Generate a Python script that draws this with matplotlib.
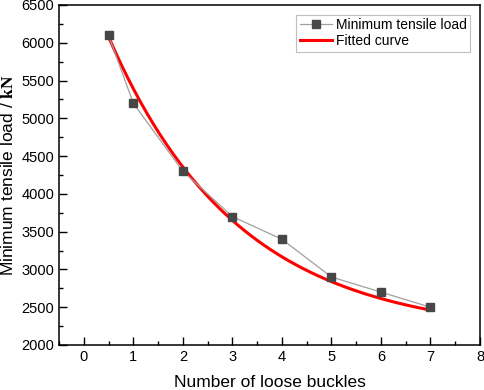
import numpy as np
import matplotlib
matplotlib.use("Agg")
import matplotlib.pyplot as plt
from matplotlib.ticker import MultipleLocator

plt.rcParams['font.family'] = ['Liberation Sans', 'DejaVu Sans']
plt.rcParams['mathtext.fontset'] = 'custom'
plt.rcParams['mathtext.bf'] = 'Liberation Serif:bold'
plt.rcParams['mathtext.rm'] = 'Liberation Sans'

# data
buckles = [0.5, 1, 2, 3, 4, 5, 6, 7]
min_load = [6100, 5200, 4300, 3700, 3400, 2900, 2700, 2500]

# fitted curve parameters (ExpDec1: y = y0 + A*exp(-x/t))
fit_y0 = 2134
fit_A = 4778
fit_t = 2.613

fig = plt.figure(figsize=(4.84, 3.90), dpi=100)
ax = fig.add_axes([59/484, 45/390, (480-59)/484, (345-5)/390])

ax.plot(buckles, min_load, color='#a0a0a0', lw=0.9, marker='s', ms=5.5,
        mfc='#474747', mec='#474747', label='Minimum tensile load', zorder=3)
xf = np.linspace(min(buckles), max(buckles), 200)
yf = fit_y0 + fit_A * np.exp(-xf / fit_t)
ax.plot(xf, yf, color='#ff0000', lw=2.2, label='Fitted curve', zorder=2)

ax.set_xlim(-0.5, 8)
ax.set_ylim(2000, 6500)
ax.xaxis.set_major_locator(MultipleLocator(1))
ax.xaxis.set_minor_locator(MultipleLocator(0.5))
ax.yaxis.set_major_locator(MultipleLocator(500))
ax.yaxis.set_minor_locator(MultipleLocator(250))
ax.tick_params(which='both', direction='in', top=False, right=False, labelsize=10.5, width=1)
ax.tick_params(which='major', length=6)
ax.tick_params(which='minor', length=3)
for s in ax.spines.values():
    s.set_linewidth(1.1)

ax.set_xlabel('Number of loose buckles', fontsize=12.5, labelpad=8)
ax.set_ylabel(r'Minimum tensile load / $\mathbf{kN}$', fontsize=12.5, labelpad=4)

leg = ax.legend(loc='upper right', fontsize=10, frameon=True, fancybox=False,
                edgecolor='#b0b0b0', borderpad=0.25, handlelength=2.3,
                handletextpad=0.3, labelspacing=0.15, borderaxespad=0.7)
leg.get_frame().set_linewidth(0.8)

fig.savefig('out.png', dpi=100)
